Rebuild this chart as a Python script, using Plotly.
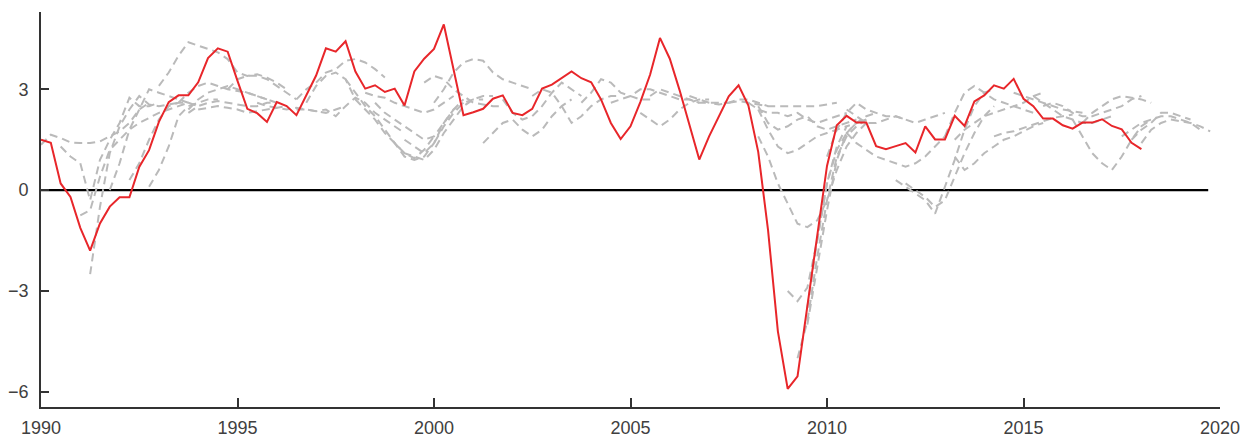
import plotly.graph_objects as go

# Actual growth, quarterly from 1990Q1
actual_start = 1990.0
actual = [1.50, 1.41, 0.20, -0.20, -1.12, -1.80, -0.99, -0.49, -0.21, -0.21,
          0.69, 1.19, 2.03, 2.62, 2.82, 2.82, 3.21, 3.93, 4.22, 4.12,
          3.25, 2.42, 2.29, 2.03, 2.62, 2.50, 2.23, 2.82, 3.41, 4.22,
          4.12, 4.43, 3.53, 3.02, 3.12, 2.92, 3.02, 2.52, 3.53, 3.91,
          4.20, 4.93, 3.55, 2.23, 2.32, 2.42, 2.72, 2.82, 2.30, 2.23,
          2.42, 3.02, 3.14, 3.33, 3.53, 3.33, 3.21, 2.70, 2.00, 1.52,
          1.90, 2.62, 3.44, 4.53, 3.91, 2.97, 1.93, 0.91, 1.60, 2.18,
          2.79, 3.12, 2.52, 1.14, -1.19, -4.20, -5.91, -5.54, -3.40, -1.30,
          0.72, 1.93, 2.21, 2.01, 2.01, 1.31, 1.22, 1.31, 1.40, 1.12,
          1.90, 1.51, 1.51, 2.21, 1.91, 2.64, 2.82, 3.12, 3.02, 3.31,
          2.72, 2.50, 2.13, 2.13, 1.93, 1.83, 2.01, 2.01, 2.11, 1.91,
          1.81, 1.41, 1.22]

# Forecast vintages: first quarter of each path and its quarterly values
forecast_starts = [1990.0, 1990.5, 1991.0, 1991.25, 1991.75, 1992.75, 1992.25, 1993.0,
                   1993.5, 1993.75, 1993.75, 1994.0, 1996.5, 1996.75, 1996.5, 1997.75,
                   1998.25, 1998.5, 2000.0, 1999.75, 1999.0, 1999.25, 2001.25, 2001.75,
                   2002.5, 2003.75, 2005.25, 2004.5, 2005.5, 2006.5, 2007.5, 2008.0,
                   2008.25, 2008.25, 2008.25, 2009.0, 2009.25, 2009.5, 2009.5, 2010.0,
                   2010.5, 2010.5, 2011.75, 2012.0, 2013.25, 2013.25, 2013.0, 2016.5,
                   2016.25, 2017.5, 2017.75, 2018.0, 2014.25, 2014.75, 2015.25, 2015.5,
                   1994.75, 1995.5]
forecast_values = [
    [1.35, 1.65, 1.55, 1.42, 1.40, 1.40, 1.45, 1.60, 1.75, 2.00, 2.40, 2.60],
    [1.30, 1.00, 0.80, -0.30, 0.90, 1.50, 2.00, 2.75, 2.50, 2.50, 2.60],
    [-0.75, -0.60, 0.40, 1.20, 1.50, 1.80, 2.00, 2.15, 2.30, 2.40, 2.50, 2.60],
    [-2.50, -0.50, 1.10, 1.90, 2.40, 2.80, 2.55, 2.50, 2.55, 2.60],
    [0.00, 0.80, 1.80, 2.40, 3.00, 2.90, 2.80, 2.70, 2.60],
    [0.10, 0.60, 1.30, 2.20, 2.50, 2.60, 2.70, 2.70],
    [0.30, 0.80, 1.50, 2.10, 2.50, 2.60, 2.60, 2.50],
    [3.10, 3.50, 4.00, 4.40, 4.30, 4.20, 4.10, 3.90, 3.50, 3.40, 3.45, 3.35, 3.20, 3.00],
    [2.60, 2.90, 3.10, 3.20, 3.10, 3.00, 2.95, 2.90, 2.80, 2.70],
    [2.40, 2.70, 2.90, 3.00, 3.10, 3.00, 2.90, 2.80, 2.70, 2.60],
    [2.30, 2.50, 2.60, 2.65, 2.60, 2.55, 2.50, 2.50, 2.60, 2.60],
    [2.40, 2.45, 2.50, 2.45, 2.40, 2.30, 2.35, 2.40, 2.45, 2.50],
    [2.70, 3.00, 3.20, 3.50, 3.60, 3.85, 3.90, 3.80, 3.60, 3.35],
    [2.60, 3.10, 3.40, 3.50, 3.30, 2.70, 2.40, 2.10, 1.70, 1.40, 1.10, 0.95, 1.20, 1.60],
    [2.40, 2.40, 2.35, 2.40, 2.20, 2.50, 2.75, 2.60, 2.30, 2.10, 1.90, 1.70],
    [3.30, 2.90, 2.50, 2.20, 1.80, 1.40, 1.00, 0.90, 1.00, 1.40, 2.00, 2.40, 2.60],
    [2.90, 2.80, 2.75, 2.60, 2.50, 2.40, 2.30, 2.40, 2.60, 2.80],
    [2.60, 2.30, 2.10, 1.90, 1.70, 1.50, 1.60, 2.00, 2.40, 2.70],
    [2.60, 3.00, 3.50, 3.80, 3.90, 3.85, 3.50, 3.30, 3.20, 3.10, 3.00],
    [3.20, 3.40, 3.30, 3.00, 2.80, 2.60, 2.55, 2.50, 2.50],
    [1.40, 1.10, 1.00, 0.90, 1.20, 1.70, 2.10, 2.50, 2.70, 2.80, 2.80],
    [1.50, 1.30, 1.10, 1.40, 1.90, 2.30, 2.60, 2.70, 2.70],
    [1.40, 1.70, 2.00, 2.10, 1.80, 1.60, 1.80, 2.20, 2.50, 2.70],
    [2.70, 2.30, 2.10, 2.20, 2.50, 2.90, 3.20, 3.00, 2.80],
    [2.80, 3.00, 2.90, 2.50, 2.00, 2.20, 2.50, 2.70, 2.80, 2.80],
    [2.60, 2.90, 3.30, 3.20, 2.90, 2.80, 2.70, 2.70],
    [2.30, 2.10, 1.90, 2.10, 2.40, 2.60, 2.70, 2.70],
    [2.60, 2.70, 2.80, 3.00, 3.00, 2.90, 2.80, 2.70, 2.70, 2.60],
    [2.80, 3.00, 2.90, 2.80, 2.70, 2.60, 2.60, 2.60, 2.60],
    [2.80, 2.70, 2.60, 2.55, 2.60, 2.70, 2.70, 2.60, 2.50],
    [2.60, 2.65, 2.60, 2.55, 2.50, 2.50, 2.50, 2.50, 2.50, 2.50, 2.55, 2.60],
    [2.60, 2.40, 2.30, 2.30, 2.20, 2.30, 2.10, 2.00, 2.10, 2.20, 2.30],
    [2.50, 2.00, 1.80, 1.90, 2.10, 2.20, 1.90, 1.80, 1.90, 2.00, 2.10],
    [2.40, 1.80, 1.30, 1.10, 1.20, 1.40, 1.60, 1.70, 1.80, 1.90],
    [1.60, 1.00, 0.20, -0.40, -1.00, -1.10, -0.90, -0.30, 0.60, 1.30, 1.70, 2.00],
    [-3.00, -3.30, -2.90, -1.50, 0.20, 1.20, 1.70, 2.00, 2.10],
    [-5.00, -3.90, -2.00, -0.30, 1.00, 1.60, 1.90, 2.10],
    [-4.00, -2.30, -0.60, 0.90, 1.70, 2.00, 2.20, 2.30],
    [-3.50, -1.50, 0.20, 1.30, 1.90, 2.00, 2.10],
    [1.00, 1.80, 2.30, 2.60, 2.40, 2.30, 2.20, 2.20, 2.10],
    [2.40, 2.20, 2.00, 2.00, 2.10, 2.20, 2.10, 2.00, 2.10, 2.20, 2.30],
    [1.70, 1.40, 1.20, 1.00, 0.90, 0.80, 0.70, 0.80, 1.00, 1.30, 1.60],
    [0.30, 0.10, -0.10, -0.30, -0.70, 0.10, 0.90, 1.80, 2.50, 2.90, 3.00],
    [0.20, 0.00, -0.20, -0.50, -0.30, 0.40, 1.10, 1.70, 2.20, 2.50],
    [1.00, 0.60, 0.80, 1.10, 1.30, 1.50, 1.60, 1.75, 1.90, 2.00],
    [1.50, 1.80, 2.00, 2.20, 2.30, 2.40, 2.50, 2.60, 2.80, 2.90],
    [1.60, 2.30, 2.90, 3.10, 2.90, 2.70, 2.60, 2.50, 2.40, 2.30],
    [2.00, 2.30, 2.50, 2.70, 2.80, 2.75, 2.70, 2.60],
    [2.10, 1.60, 1.10, 0.80, 0.60, 1.00, 1.50, 1.90, 2.10],
    [1.60, 1.80, 2.00, 2.10, 2.20, 2.20, 2.10, 2.00, 1.80],
    [1.50, 1.80, 2.00, 2.30, 2.30, 2.20, 2.10],
    [1.40, 1.80, 2.00, 2.10, 2.05, 2.00, 1.90, 1.75],
    [1.60, 1.70, 1.75, 1.85, 1.95, 2.05, 2.15, 2.20, 2.25],
    [2.90, 2.80, 2.70, 2.60, 2.50, 2.40, 2.35, 2.30],
    [2.80, 2.60, 2.40, 2.20, 2.10, 2.00, 2.00, 2.10, 2.20],
    [2.50, 2.60, 2.50, 2.30, 2.20, 2.20, 2.30, 2.40, 2.50, 2.70, 2.80],
    [3.00, 3.30, 3.40, 3.40, 3.30, 3.10, 2.90, 2.70],
    [2.60, 2.50, 2.45, 2.40, 2.45, 2.40, 2.35, 2.30, 2.40, 2.50],
]

zero_line_end = 2019.7
year_ticks = [1990, 1995, 2000, 2005, 2010, 2015, 2020]
value_ticks = [-6, -3, 0, 3]
value_labels = ["\u22126", "\u22123", "0", "3"]

RED = "rgb(232,38,42)"
GRAY = "rgb(186,186,186)"

fig = go.Figure()

fig.add_trace(go.Scatter(x=[actual_start, zero_line_end], y=[0, 0], mode="lines",
                         line=dict(color="black", width=2.2), hoverinfo="skip",
                         showlegend=False))

for start, vals in zip(forecast_starts, forecast_values):
    xs = [start + 0.25 * i for i in range(len(vals))]
    fig.add_trace(go.Scatter(x=xs, y=vals, mode="lines",
                             line=dict(color=GRAY, width=2, dash="8px,5px"),
                             showlegend=False))

fig.add_trace(go.Scatter(x=[actual_start + 0.25 * i for i in range(len(actual))],
                         y=actual, mode="lines",
                         line=dict(color=RED, width=2), showlegend=False))

font = dict(family="Liberation Sans, Arial, Helvetica, sans-serif", size=18, color="#404040")

fig.update_layout(
    width=1240, height=431,
    margin=dict(l=33, r=28, t=4, b=32),
    plot_bgcolor="white", paper_bgcolor="white",
    font=font,
    showlegend=False,
    xaxis=dict(range=[1990, 2020], tickvals=year_ticks,
               ticktext=[str(y) for y in year_ticks],
               showgrid=False, zeroline=False, showline=True,
               linecolor="#333333", linewidth=1.8,
               ticks="inside", ticklen=9, tickwidth=1.8, tickcolor="#333333",
               ticklabelstandoff=3, automargin=False),
    yaxis=dict(range=[-6.45, 5.3], tickvals=value_ticks, ticktext=value_labels,
               showgrid=False, zeroline=False, showline=True,
               linecolor="#333333", linewidth=1.8,
               ticks="inside", ticklen=8, tickwidth=1.8, tickcolor="#333333",
               ticklabelstandoff=7, automargin=False),
)

fig.write_html("out.html")
